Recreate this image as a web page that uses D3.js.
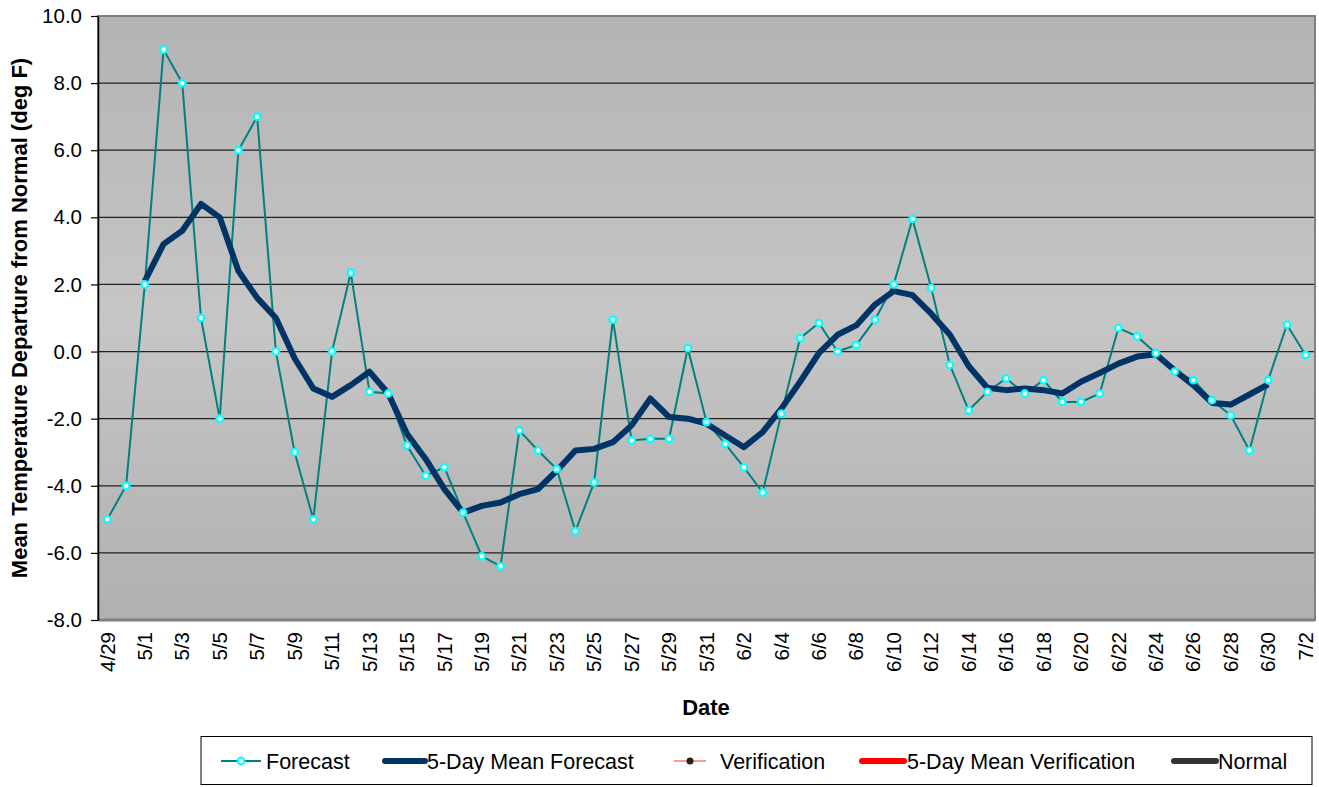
<!DOCTYPE html>
<html>
<head>
<meta charset="utf-8">
<script src="https://cdn.jsdelivr.net/npm/d3@7"></script>
<style>
  html, body { margin: 0; padding: 0; background: #fff; }
  svg { display: block; font-family: "Liberation Sans", Arial, sans-serif; }
</style>
</head>
<body>
<svg id="chart" width="1319" height="787"></svg>
<script>
// dates on the category axis (one per day)
const dates = ["4/29","4/30","5/1","5/2","5/3","5/4","5/5","5/6","5/7","5/8","5/9","5/10",
  "5/11","5/12","5/13","5/14","5/15","5/16","5/17","5/18","5/19","5/20","5/21","5/22",
  "5/23","5/24","5/25","5/26","5/27","5/28","5/29","5/30","5/31","6/1","6/2","6/3",
  "6/4","6/5","6/6","6/7","6/8","6/9","6/10","6/11","6/12","6/13","6/14","6/15",
  "6/16","6/17","6/18","6/19","6/20","6/21","6/22","6/23","6/24","6/25","6/26","6/27",
  "6/28","6/29","6/30","7/1","7/2"];

// daily forecast departure (deg F)
const forecast = [-5.0, -4.0, 2.0, 9.0, 8.0, 1.0, -2.0, 6.0, 7.0, 0.0, -3.0, -5.0,
  0.0, 2.35, -1.2, -1.25, -2.8, -3.7, -3.45, -4.8, -6.1, -6.4, -2.35, -2.95,
  -3.5, -5.35, -3.9, 0.95, -2.65, -2.6, -2.6, 0.1, -2.1, -2.75, -3.45, -4.2,
  -1.85, 0.4, 0.85, 0.0, 0.2, 0.95, 2.0, 3.95, 1.9, -0.4, -1.75, -1.2,
  -0.8, -1.25, -0.85, -1.5, -1.5, -1.25, 0.7, 0.45, -0.05, -0.6, -0.85, -1.45,
  -1.9, -2.95, -0.85, 0.8, -0.1];

// 5-day running mean of the forecast (null where not defined)
const meanForecast = [null, null, 2.1, 3.2, 3.6, 4.4, 4.0, 2.4, 1.6, 1.0, -0.2, -1.1,
  -1.35, -1.0, -0.6, -1.25, -2.45, -3.2, -4.1, -4.8, -4.6, -4.5, -4.25, -4.1,
  -3.55, -2.95, -2.9, -2.7, -2.2, -1.4, -1.95, -2.0, -2.15, -2.5, -2.85, -2.4,
  -1.7, -0.9, -0.05, 0.5, 0.78, 1.4, 1.8, 1.68, 1.13, 0.5, -0.43, -1.08,
  -1.15, -1.1, -1.15, -1.25, -0.9, -0.64, -0.36, -0.15, -0.08, -0.56, -1.0, -1.53,
  -1.58, -1.28, -0.98, null, null];

const yTicks = [-8, -6, -4, -2, 0, 2, 4, 6, 8, 10];

const legendNames = ["Forecast", "5-Day Mean Forecast", "Verification", "5-Day Mean Verification", "Normal"];
const legendX = [221, 385, 674, 862, 1174];

const svg = d3.select("#chart");

const plotLeft = 98, plotRight = 1315, plotTop = 16, plotBottom = 620;

const x = d3.scaleBand().domain(dates).range([plotLeft, plotRight]).padding(0);
const y = d3.scaleLinear().domain([-8, 10]).range([plotBottom, plotTop]);
const cx = d => x(d) + x.bandwidth() / 2;

// plot background gradient
const defs = svg.append("defs");
const grad = defs.append("linearGradient")
  .attr("id", "bg").attr("x1", 0).attr("y1", 0).attr("x2", 0).attr("y2", 1);
grad.append("stop").attr("offset", "0%").attr("stop-color", "#b3b3b3");
grad.append("stop").attr("offset", "50%").attr("stop-color", "#c6c6c6");
grad.append("stop").attr("offset", "100%").attr("stop-color", "#b0b0b0");

svg.append("rect")
  .attr("x", plotLeft).attr("y", plotTop)
  .attr("width", plotRight - plotLeft).attr("height", plotBottom - plotTop)
  .attr("fill", "url(#bg)")
  .attr("stroke", "#808080").attr("stroke-width", 2);

// gridlines
svg.append("g")
  .selectAll("line")
  .data(yTicks.filter(t => t > -8 && t < 10))
  .join("line")
  .attr("x1", plotLeft).attr("x2", plotRight - 1)
  .attr("y1", d => y(d)).attr("y2", d => y(d))
  .attr("stroke", "#222").attr("stroke-width", 1.2);

// bottom border (grey, heavier)
svg.append("line")
  .attr("x1", plotLeft).attr("x2", plotRight)
  .attr("y1", plotBottom).attr("y2", plotBottom)
  .attr("stroke", "#808080").attr("stroke-width", 3);

// y axis
const yAxis = svg.append("g")
  .attr("transform", `translate(${plotLeft},0)`)
  .call(d3.axisLeft(y).tickValues(yTicks).tickSize(7).tickSizeOuter(0)
    .tickFormat(d => d.toFixed(1)));
yAxis.select(".domain").attr("stroke", "#000").attr("stroke-width", 1.5);
yAxis.selectAll(".tick line").attr("stroke", "#000").attr("stroke-width", 1.2);
yAxis.selectAll(".tick text")
  .attr("x", -16)
  .attr("fill", "#000")
  .style("font-size", "20.5px")
  .style("font-family", "Liberation Sans, Arial, sans-serif");

// x axis labels (every other date)
const xAxis = svg.append("g")
  .attr("transform", `translate(0,${plotBottom})`)
  .call(d3.axisBottom(x).tickValues(dates.filter((d, i) => i % 2 === 0)).tickSize(0));
xAxis.select(".domain").remove();
xAxis.selectAll(".tick text")
  .attr("transform", "rotate(-90)")
  .attr("x", -12).attr("y", 0).attr("dy", "0.35em")
  .attr("text-anchor", "end")
  .attr("fill", "#000")
  .style("font-size", "20.5px")
  .style("font-family", "Liberation Sans, Arial, sans-serif");

// axis titles
svg.append("text")
  .attr("x", 706).attr("y", 715)
  .attr("text-anchor", "middle")
  .attr("font-weight", "bold").attr("font-size", 22)
  .text("Date");

svg.append("text")
  .attr("transform", "translate(27,318) rotate(-90)")
  .attr("text-anchor", "middle")
  .attr("font-weight", "bold").attr("font-size", 22)
  .text("Mean Temperature Departure from Normal (deg F)");

// forecast line
const fcData = dates.map((d, i) => ({ date: d, value: forecast[i] }));
const line = d3.line().x(d => cx(d.date)).y(d => y(d.value)).defined(d => d.value != null);

svg.append("path")
  .datum(fcData)
  .attr("d", line)
  .attr("fill", "none")
  .attr("stroke", "#008080")
  .attr("stroke-width", 2);

// 5-day mean line
const meanData = dates.map((d, i) => ({ date: d, value: meanForecast[i] }));
svg.append("path")
  .datum(meanData)
  .attr("d", line)
  .attr("fill", "none")
  .attr("stroke", "#003366")
  .attr("stroke-width", 6)
  .attr("stroke-linejoin", "round");

// forecast markers on top
svg.append("g")
  .selectAll("circle")
  .data(fcData)
  .join("circle")
  .attr("cx", d => cx(d.date))
  .attr("cy", d => y(d.value))
  .attr("r", 3.3)
  .attr("fill", "#fff")
  .attr("stroke", "#00ffff")
  .attr("stroke-width", 2.2);

// legend
const legend = svg.append("g");
legend.append("rect")
  .attr("x", 201).attr("y", 736.5)
  .attr("width", 1111).attr("height", 48)
  .attr("fill", "#fff").attr("stroke", "#000").attr("stroke-width", 1);

const ly = 761;
const items = legend.selectAll("g.item")
  .data(legendNames)
  .join("g")
  .attr("class", "item")
  .attr("transform", (d, i) => `translate(${legendX[i]},${ly})`);

// samples
items.each(function(d, i) {
  const g = d3.select(this);
  if (i === 0) {
    g.append("line").attr("x1", 0).attr("x2", 40).attr("stroke", "#008080").attr("stroke-width", 2);
    g.append("circle").attr("cx", 20).attr("r", 3.3).attr("fill", "#fff").attr("stroke", "#00ffff").attr("stroke-width", 2.2);
  } else if (i === 1) {
    g.append("line").attr("x1", 0).attr("x2", 40).attr("stroke", "#003366").attr("stroke-width", 6).attr("stroke-linecap", "round");
  } else if (i === 2) {
    g.append("line").attr("x1", 0).attr("x2", 32).attr("stroke", "#ff9999").attr("stroke-width", 2);
    g.append("circle").attr("cx", 16).attr("r", 3.5).attr("fill", "#222");
  } else if (i === 3) {
    g.append("line").attr("x1", 0).attr("x2", 42).attr("stroke", "#ff0000").attr("stroke-width", 6).attr("stroke-linecap", "round");
  } else {
    g.append("line").attr("x1", 0).attr("x2", 42).attr("stroke", "#333333").attr("stroke-width", 6).attr("stroke-linecap", "round");
  }
});

const textOffset = [45, 42, 46, 45, 44];
items.append("text")
  .attr("x", (d, i) => textOffset[i])
  .attr("dy", "0.35em")
  .attr("font-size", 21.5)
  .attr("fill", "#000")
  .text(d => d);
</script>
</body>
</html>
